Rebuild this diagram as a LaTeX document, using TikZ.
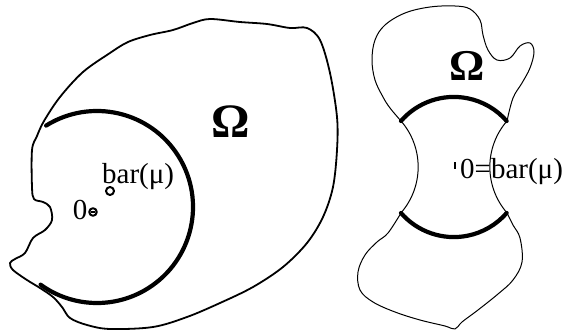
\documentclass[tikz,border=0pt]{standalone}
\usepackage{fontspec}
\setmainfont{Liberation Serif}

\begin{document}
\begin{tikzpicture}[x=1pt,y=-1pt,line cap=round,line join=round,
  rim/.style={line width=1.8pt},
  thinrim/.style={line width=1pt},
  thickarc/.style={line width=4.2pt},
  lbl/.style={font=\fontsize{29}{31}\selectfont,inner sep=0pt},
  omega/.style={font=\fontsize{#1}{#1}\selectfont\bfseries,inner sep=0pt}]
  \useasboundingbox (0,0) rectangle (563,332);
  % left domain
  \draw[rim] plot[smooth cycle,tension=0.55] coordinates {
    (60,97) (83,72) (110,53) (128,42) (150,35) (173,30) (193,23) (210,19)
    (240,22) (267,24) (290,28) (307,28) (320,40) (330,73) (337,117) (337,150)
    (333,187) (323,217) (307,243) (283,267) (253,287) (220,303) (187,317)
    (153,327) (110,329) (87,325) (70,318) (62,307) (53,297) (40,288) (27,280)
    (13,270) (10,263) (15,259) (25,253) (33,238) (45,230) (52,220) (50,207)
    (43,202) (34,199) (32,187) (32,150) (37,136) (44,121)};
  \draw[thickarc] (97,207) ++(-122:96) arc[start angle=-122,end angle=126,radius=96];
  \coordinate (zero) at (93,212);
  \coordinate (bary) at (110,191);
  \draw[line width=2pt] (zero) circle (3.8);
  \draw[line width=1.2pt] (91,212) -- (95,212);
  \draw[line width=2pt] (bary) circle (4);
  \node[lbl] (zerolbl) at (80,210) {0};
  \node[lbl,anchor=west] (barlbl) at (102,177) {bar(μ)};
  \node[omega=48] (omegaL) at (231,122) {Ω};
  % right domain
  \coordinate (ul) at (401,121);
  \coordinate (ur) at (507,121);
  \coordinate (ll) at (401,213);
  \coordinate (lr) at (507,213);
  \draw[thinrim] plot[smooth,tension=0.6] coordinates {
    (ul) (390,108) (383,97) (375,80) (372,60) (375,40) (385,25) (405,13)
    (430,7) (455,6) (470,9) (480,20) (483,35) (488,50) (497,60) (510,58)
    (520,46) (530,43) (534,52) (530,68) (522,83) (513,98) (ur)};
  \draw[thinrim] plot[smooth,tension=0.6] coordinates {
    (ll) (388,233) (377,242) (365,255) (358,272) (360,290) (373,302)
    (395,312) (420,320) (445,326) (455,329) (462,322) (478,310) (498,294)
    (513,280) (522,262) (520,238) (513,225) (lr)};
  \draw[thinrim] (ul) arc[start angle=-41,end angle=41,radius=70];
  \draw[thinrim] (ur) arc[start angle=-139,end angle=-221,radius=70];
  \draw[thickarc] (ul) arc[start angle=-139,end angle=-41,radius=70];
  \draw[thickarc] (ll) arc[start angle=139,end angle=41,radius=70];
  \fill (453.5,162) rectangle (456,169);
  \node[lbl,anchor=west] (ctrlbl) at (460,172) {0=bar(μ)};
  \node[omega=44] (omegaR) at (467,66) {Ω};
\end{tikzpicture}
\end{document}
